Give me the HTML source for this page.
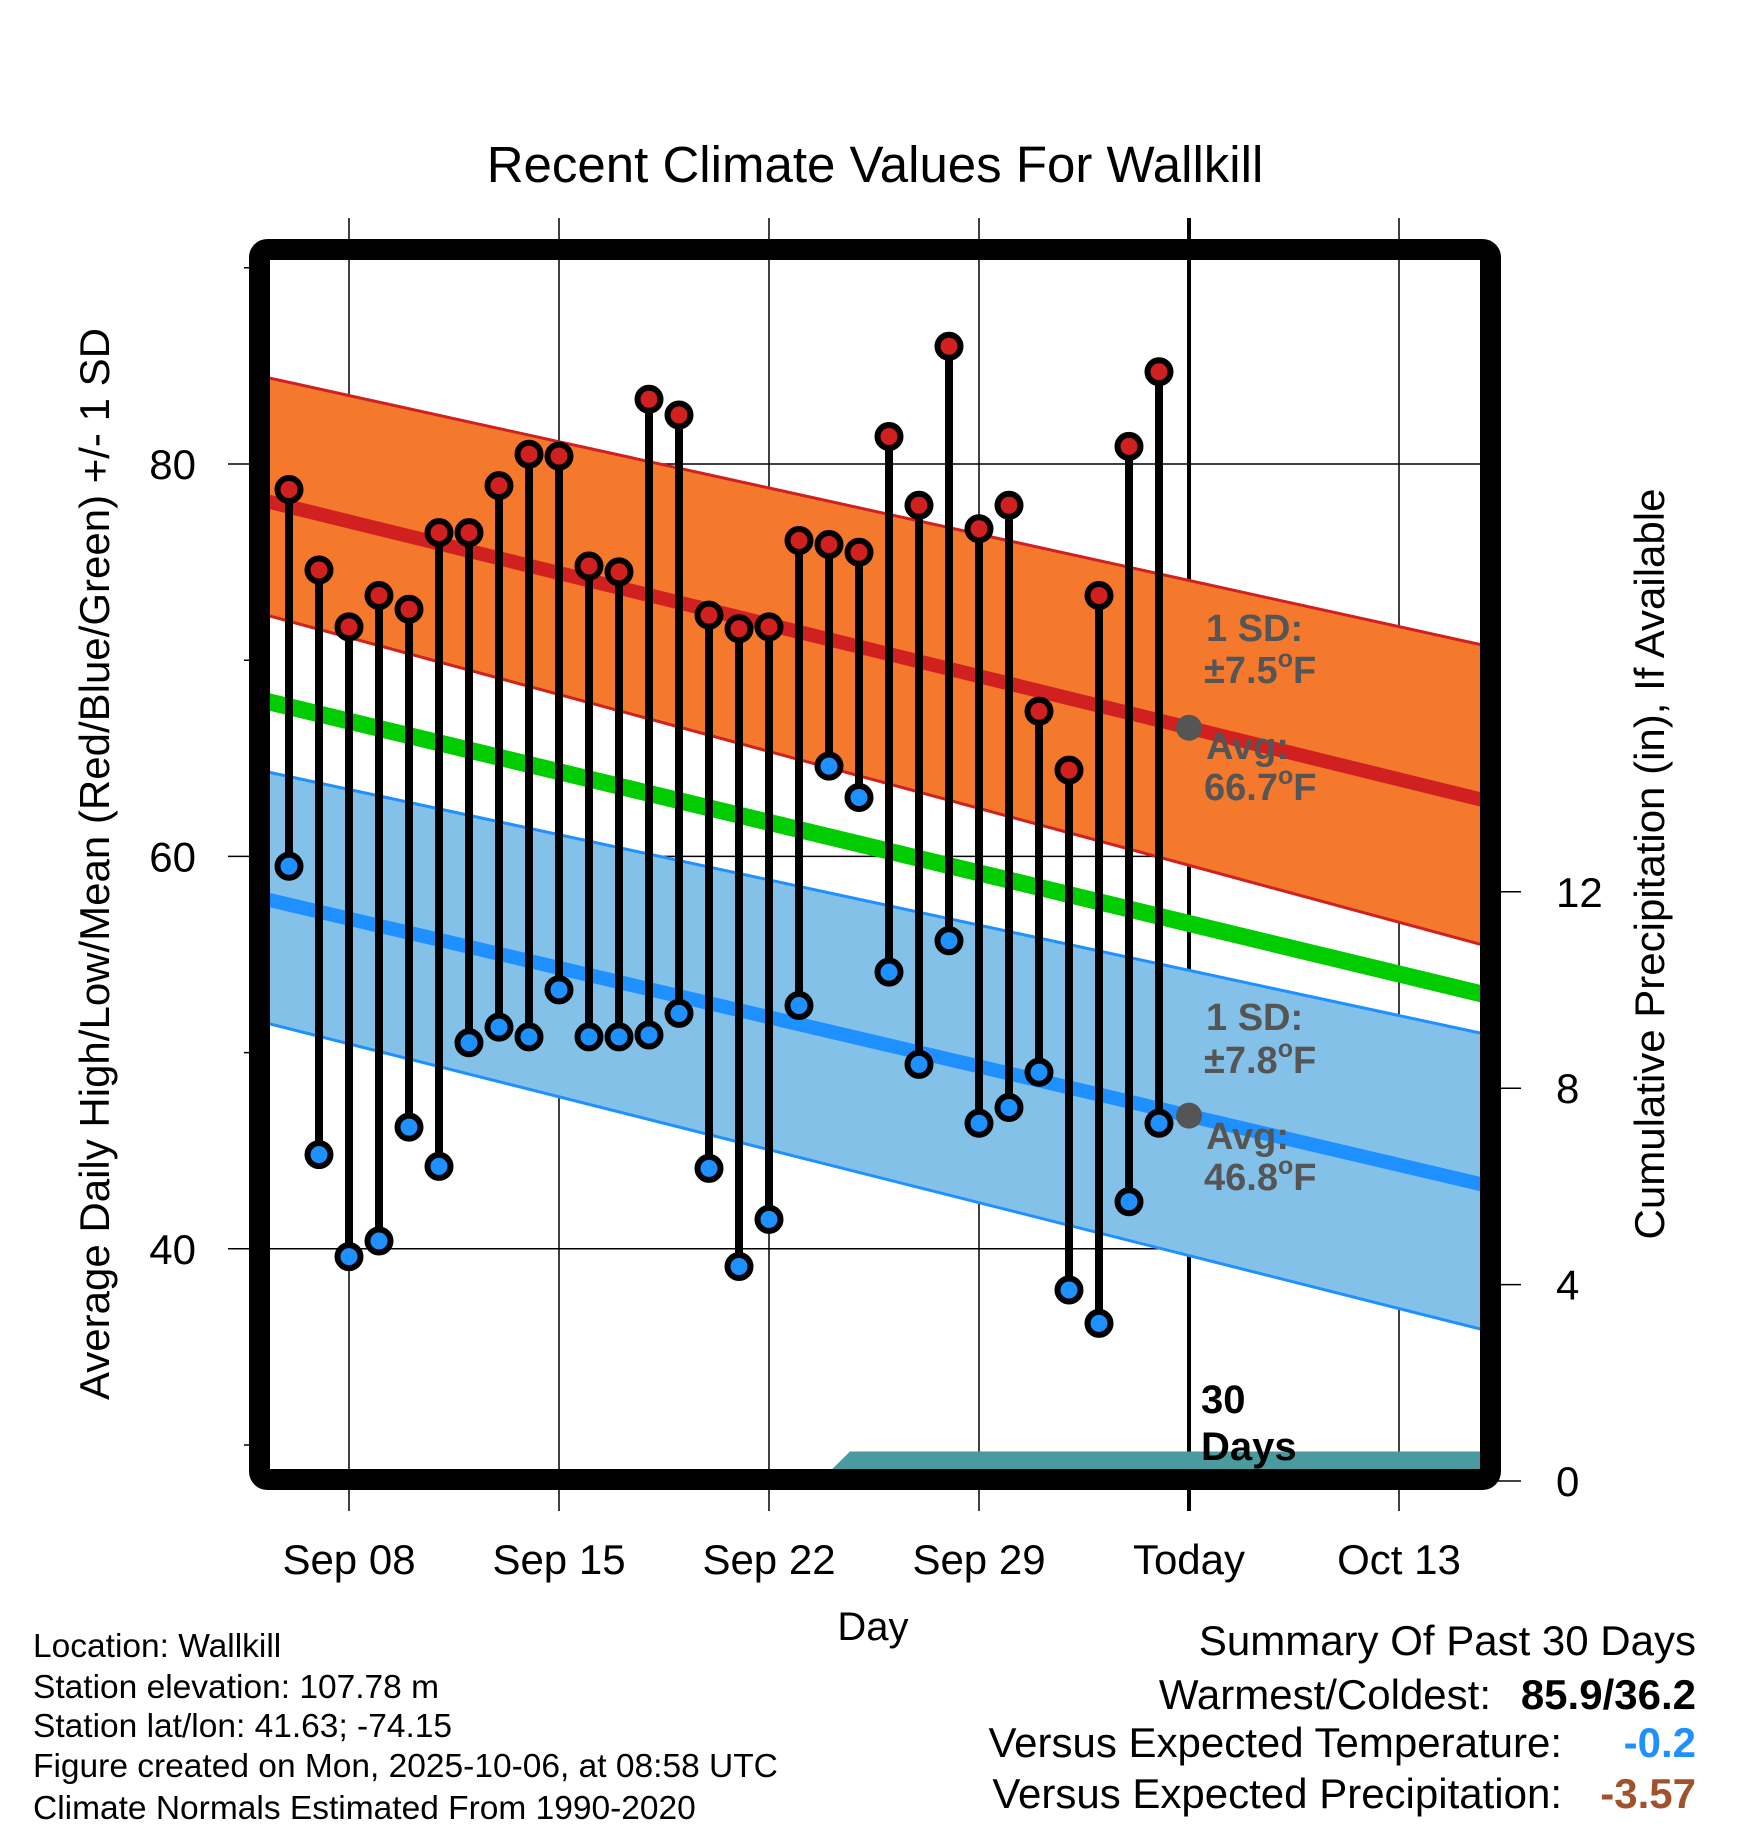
<!DOCTYPE html>
<html><head><meta charset="utf-8"><style>
html,body{margin:0;padding:0;background:#fff;}
svg{display:block;font-family:"Liberation Sans",Arial,sans-serif;}
</style></head><body>
<svg id="chart" width="1748" height="1828" viewBox="0 0 1748 1828" xmlns="http://www.w3.org/2000/svg">
<defs><clipPath id="plotclip"><rect x="270" y="260" width="1211" height="1209"/></clipPath></defs>
<rect width="1748" height="1828" fill="#fff"/>
<text x="875" y="182" font-size="51" text-anchor="middle">Recent Climate Values For Wallkill</text>
<g id="grid"></g>
<g id="bands" clip-path="url(#plotclip)"></g>
<g id="precip" clip-path="url(#plotclip)"></g>
<g id="marks"></g>
<g id="annot" font-weight="bold" font-size="38" fill="#555">
<text x="1206" y="641">1 SD:</text>
<text x="1204" y="683">±7.5<tspan font-size="25" dy="-16">o</tspan><tspan dy="16">F</tspan></text>
<text x="1206" y="759">Avg:</text>
<text x="1204" y="800">66.7<tspan font-size="25" dy="-16">o</tspan><tspan dy="16">F</tspan></text>
<text x="1206" y="1030">1 SD:</text>
<text x="1204" y="1073">±7.8<tspan font-size="25" dy="-16">o</tspan><tspan dy="16">F</tspan></text>
<text x="1206" y="1149">Avg:</text>
<text x="1204" y="1190">46.8<tspan font-size="25" dy="-16">o</tspan><tspan dy="16">F</tspan></text>
<text x="1201" y="1413" fill="#000" font-size="40">30</text>
<text x="1201" y="1460" fill="#000" font-size="40">Days</text>
</g>
<rect x="259.5" y="249.5" width="1231" height="1230" rx="8" fill="none" stroke="#000" stroke-width="21"/>
<g id="axes" font-size="42"></g>
<text transform="translate(109,864) rotate(-90)" font-size="42" text-anchor="middle">Average Daily High/Low/Mean (Red/Blue/Green) +/- 1 SD</text>
<text transform="translate(1664,864) rotate(-90)" font-size="42" text-anchor="middle">Cumulative Precipitation (in), If Available</text>
<text x="873" y="1640" font-size="40" text-anchor="middle">Day</text>
<g font-size="33.5">
<text x="33" y="1657">Location: Wallkill</text>
<text x="33" y="1698">Station elevation: 107.78 m</text>
<text x="33" y="1737">Station lat/lon: 41.63; -74.15</text>
<text x="33" y="1777">Figure created on Mon, 2025-10-06, at 08:58 UTC</text>
<text x="33" y="1819">Climate Normals Estimated From 1990-2020</text>
</g>
<g font-size="42" text-anchor="end">
<text x="1696" y="1655">Summary Of Past 30 Days</text>
<text x="1491" y="1709">Warmest/Coldest:</text>
<text x="1696" y="1709" font-weight="bold">85.9/36.2</text>
<text x="1562" y="1757">Versus Expected Temperature:</text>
<text x="1696" y="1757" font-weight="bold" fill="#1E90FF">-0.2</text>
<text x="1562" y="1808">Versus Expected Precipitation:</text>
<text x="1696" y="1808" font-weight="bold" fill="#A0522D">-3.57</text>
</g>
</svg>
<script>
// day numbers: Sep 1 = 1, Oct 1 = 31
const days = [6,7,8,9,10,11,12,13,14,15,16,17,18,19,20,21,22,23,24,25,26,27,28,29,30,31,32,33,34,35];
const highs = [78.7,74.6,71.7,73.3,72.6,76.5,76.5,78.9,80.5,80.4,74.8,74.5,83.3,82.5,72.3,71.6,71.7,76.1,75.9,75.5,81.4,77.9,86.0,76.7,77.9,67.4,64.4,73.3,80.9,84.7];
const lows = [59.5,44.8,39.6,40.4,46.2,44.2,50.5,51.3,50.8,53.2,50.8,50.8,50.9,52.0,44.1,39.1,41.5,52.4,64.6,63.0,54.1,49.4,55.7,46.4,47.2,49.0,37.9,36.2,42.4,46.4];
const normDays = [5,46];
const highUpper = [84.5,70.7];
const highMean = [78.2,62.8];
const highLower = [72.4,55.4];
const meanNorm = [68.0,52.9];
const lowUpper = [64.4,50.9];
const lowMean = [57.9,43.2];
const lowLower = [51.6,35.8];
const precipDays = [5,23,23.7,24.7,47];
const precipCum = [0,0,0,0.6,0.6];
const tickDays = [8,15,22,29,36,43];
const tickLabels = ["Sep 08","Sep 15","Sep 22","Sep 29","Today","Oct 13"];
const yTicks = [40,60,80];
const yMinor = [30,50,70,90];
const pTicks = [0,4,8,12];
const todayDay = 36;

const NS = "http://www.w3.org/2000/svg";
const X = d => 349 + (d - 8) * 30;
const Y = v => 464 + (80 - v) * 19.62;
const P = v => 1481 - v * 49.1;
function mk(tag, attrs, parent){const e=document.createElementNS(NS,tag);for(const k in attrs)e.setAttribute(k,attrs[k]);parent.appendChild(e);return e;}
const grid=document.getElementById('grid'), bands=document.getElementById('bands'), marks=document.getElementById('marks'), axes=document.getElementById('axes'), precip=document.getElementById('precip');

tickDays.forEach((d,i)=>{
  const l=mk('line',{x1:X(d),x2:X(d),y1:218,y2:1511,stroke:'#000','stroke-width':d===todayDay?4:1.5},grid);
  
  
  const t=mk('text',{x:X(d),y:1574,'text-anchor':'middle'},axes);
  t.textContent=tickLabels[i];
  
  
});
yTicks.forEach(v=>{
  const l=mk('line',{x1:228,x2:1481,y1:Y(v),y2:Y(v),stroke:'#000','stroke-width':1.5},grid);
  
  
  const t=mk('text',{x:196,y:Y(v)+15,'text-anchor':'end'},axes);
  t.textContent=v;
  
  
});
yMinor.forEach(v=>{
  const l=mk('line',{x1:244,x2:262,y1:Y(v),y2:Y(v),stroke:'#000','stroke-width':1.5},grid);
  
  
});
pTicks.forEach(v=>{
  const l=mk('line',{x1:1490,x2:1521,y1:P(v),y2:P(v),stroke:'#000','stroke-width':1.5},axes);
  
  
  const t=mk('text',{x:1556,y:P(v)+15},axes);
  t.textContent=v;
  
  
});

function band(up,lo,fill,edge,name){
  const pts=[[X(normDays[0]),Y(up[0])],[X(normDays[1]),Y(up[1])],[X(normDays[1]),Y(lo[1])],[X(normDays[0]),Y(lo[0])]];
  const p=mk('polygon',{points:pts.map(q=>q.join(',')).join(' '),fill:fill,stroke:'none'},bands);
  
  
  [up,lo].forEach(a=>{
    const l=mk('line',{x1:X(normDays[0]),y1:Y(a[0]),x2:X(normDays[1]),y2:Y(a[1]),stroke:edge,'stroke-width':3},bands);
    
    
  });
}
function meanLine(a,color,w,name){
  const l=mk('line',{x1:X(normDays[0]),y1:Y(a[0]),x2:X(normDays[1]),y2:Y(a[1]),stroke:color,'stroke-width':w},bands);
  
  
}
band(highUpper,highLower,'#F4792D','#D02020','high-sd-band');
band(lowUpper,lowLower,'#84C1E8','#1E90FF','low-sd-band');
meanLine(highMean,'#D02020',14,'high-normal-line');
meanLine(meanNorm,'#00CC00',17,'mean-normal-line');
meanLine(lowMean,'#1E90FF',14,'low-normal-line');

const ppts=precipDays.map((d,i)=>X(d)+','+P(precipCum[i]));
ppts.push(X(precipDays[precipDays.length-1])+','+P(0));
ppts.push(X(precipDays[0])+','+P(0));
const pa=mk('polygon',{points:ppts.join(' '),fill:'#4A9BA0'},precip);



function interp(a,d){return a[0]+(a[1]-a[0])*(d-normDays[0])/(normDays[1]-normDays[0]);}
[highMean,lowMean].forEach((a,i)=>{
  const c=mk('circle',{cx:X(todayDay),cy:Y(interp(a,todayDay)),r:13,fill:'#555'},marks);
  
  
});

days.forEach((d,i)=>{
  const s=mk('line',{x1:X(d),x2:X(d),y1:Y(highs[i]),y2:Y(lows[i]),stroke:'#000','stroke-width':8},marks);
  
  
});
days.forEach((d,i)=>{
  const h=mk('circle',{cx:X(d),cy:Y(highs[i]),r:11.5,fill:'#D02020',stroke:'#000','stroke-width':6},marks);
  
  
  const l=mk('circle',{cx:X(d),cy:Y(lows[i]),r:11.5,fill:'#1E90FF',stroke:'#000','stroke-width':6},marks);
  
  
});
</script>
</body></html>
